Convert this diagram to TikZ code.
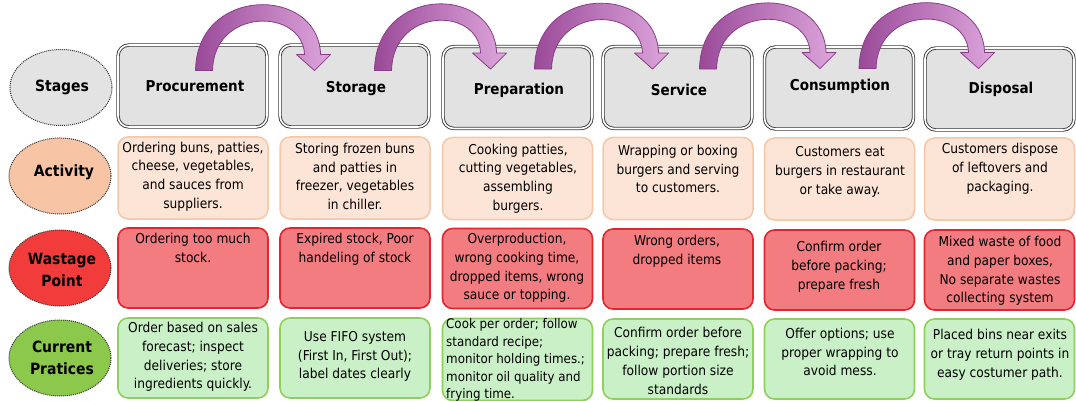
\documentclass[tikz,border=0pt]{standalone}
\usepackage{fontspec}
\setmainfont{DejaVu Sans Condensed}
\usetikzlibrary{shapes.geometric,calc}
\definecolor{stagefill}{HTML}{E2E2E2}
\definecolor{stageline}{HTML}{3A3A3A}
\definecolor{actfill}{HTML}{FCE4D6}
\definecolor{actline}{HTML}{F4C7A9}
\definecolor{wasfill}{HTML}{F27C80}
\definecolor{wasline}{HTML}{E0262E}
\definecolor{prafill}{HTML}{C9F0C6}
\definecolor{praline}{HTML}{8FCF5C}
\definecolor{ellgray}{HTML}{E3E3E3}
\definecolor{ellpeach}{HTML}{F8C4A6}
\definecolor{ellred}{HTML}{F23C3C}
\definecolor{ellgreen}{HTML}{8CC84B}
\definecolor{arrdark}{HTML}{9A4A98}
\definecolor{arrlight}{HTML}{DDA6DC}
\definecolor{arrline}{HTML}{8A3C88}
\tikzset{
  rowlabel/.style={ellipse, draw=black!80, densely dotted, line width=1pt,
    minimum width=102pt, minimum height=76pt, inner sep=0pt},
  lbltxt/.style={font=\fontsize{15.5}{22}\selectfont\bfseries, align=center, inner sep=0pt},
  stagebox/.style={rectangle, rounded corners=11pt, fill=stagefill, draw=stageline,
    line width=0.9pt, double=white, double distance=1.6pt,
    minimum width=149pt, minimum height=82pt, inner sep=0pt},
  stagetxt/.style={font=\fontsize{15}{18}\selectfont\bfseries, inner sep=0pt},
  actbox/.style={rectangle, rounded corners=10pt, fill=actfill, draw=actline,
    line width=1.5pt, minimum width=150pt, minimum height=82pt, inner sep=0pt},
  wasbox/.style={rectangle, rounded corners=10pt, fill=wasfill, draw=wasline,
    line width=1.6pt, minimum width=150pt, minimum height=80pt, inner sep=0pt},
  prabox/.style={rectangle, rounded corners=10pt, fill=prafill, draw=praline,
    line width=1.6pt, minimum width=150pt, minimum height=80pt, inner sep=0pt},
  celltxt/.style={font=\fontsize{13.6}{18.8}\selectfont, align=center, inner sep=0pt},
  smalltxt/.style={font=\fontsize{13.2}{17.6}\selectfont, align=left, inner sep=0pt},
  flowarrow/.style={left color=arrdark, right color=arrlight, draw=arrline, line width=0.8pt, line join=round}
}
\newcommand\flowarc[2]{%
  \path[flowarrow]
    ($(#1)+(-8,0)$) .. controls ($(#1)+(-7,-85)$) and ($(#2)+(4,-85)$) .. ($(#2)+(6,-16)$)
    -- ($(#2)+(16,-16)$) -- (#2) -- ($(#2)+(-18,-16)$) -- ($(#2)+(-10,-16)$)
    .. controls ($(#2)+(-12,-63)$) and ($(#1)+(10,-63)$) .. ($(#1)+(9,0)$) -- cycle;}
\begin{document}
\begin{tikzpicture}[x=1pt,y=-1pt]
\useasboundingbox (0,0) rectangle (1076,401);

% row labels
\node[rowlabel, fill=ellgray]  (lstage) at (61,87.5) {};
\node[rowlabel, fill=ellpeach] (lact)   at (60,176) {};
\node[rowlabel, fill=ellred]   (lwas)   at (60,268) {};
\node[rowlabel, fill=ellgreen] (lpra)   at (60,358) {};
\node[lbltxt] (lstaget) at (62,87) {Stages};
\node[lbltxt] (lactt)   at (64,172) {Activity};
\node[lbltxt] (lwast)   at (62,270) {Wastage\\Point};
\node[lbltxt] (lprat)   at (62,358) {Current\\Pratices};

% stage boxes
\node[stagebox] (s1) at (192.5,86) {};
\node[stagebox] (s2) at (354.5,86) {};
\node[stagebox] (s3) at (517.5,87.5) {};
\node[stagebox] (s4) at (677.5,87.5) {};
\node[stagebox] (s5) at (839,88) {};
\node[stagebox] (s6) at (999.5,89) {};
\node[stagetxt] (s1t) at (195,86) {Procurement};
\node[stagetxt] (s2t) at (356,89) {Storage};
\node[stagetxt] (s3t) at (519,90) {Preparation};
\node[stagetxt] (s4t) at (679,90) {Service};
\node[stagetxt] (s5t) at (840,86) {Consumption};
\node[stagetxt] (s6t) at (1001,89) {Disposal};

% activity boxes
\node[actbox] (a1) at (193,178) {};
\node[actbox] (a2) at (355,178) {};
\node[actbox] (a3) at (517.5,178.5) {};
\node[actbox] (a4) at (678,178.5) {};
\node[actbox] (a5) at (839.5,179) {};
\node[actbox] (a6) at (999.5,179) {};
\node[celltxt] (a1t) at (193,176.5) {Ordering buns, patties,\\cheese, vegetables,\\and sauces from\\suppliers.};
\node[celltxt] (a2t) at (355,176.5) {Storing frozen buns\\and patties in\\freezer, vegetables\\in chiller.};
\node[celltxt] (a3t) at (518,178.5) {Cooking patties,\\cutting vegetables,\\assembling\\burgers.};
\node[celltxt] (a4t) at (678,169) {Wrapping or boxing\\burgers and serving\\to customers.};
\node[celltxt] (a5t) at (840,172) {Customers eat\\burgers in restaurant\\or take away.};
\node[celltxt] (a6t) at (1000,169) {Customers dispose\\of leftovers and\\packaging.};

% wastage boxes
\node[wasbox] (w1) at (193,268) {};
\node[wasbox] (w2) at (355,268) {};
\node[wasbox] (w3) at (517.5,268.5) {};
\node[wasbox] (w4) at (678,269) {};
\node[wasbox] (w5) at (839.5,270) {};
\node[wasbox] (w6) at (999.5,270) {};
\node[celltxt] (w1t) at (193,248) {Ordering too much\\stock.};
\node[celltxt] (w2t) at (355,249) {Expired stock, Poor\\handeling of stock};
\node[celltxt] (w3t) at (517,268) {Overproduction,\\wrong cooking time,\\dropped items, wrong\\sauce or topping.};
\node[celltxt] (w4t) at (677,251) {Wrong orders,\\dropped items};
\node[celltxt] (w5t) at (839,266.5) {Confirm order\\before packing;\\prepare fresh};
\node[celltxt] (w6t) at (1000,271) {Mixed waste of food\\and paper boxes,\\No separate wastes\\collecting system};

% practice boxes
\node[prabox] (p1) at (193,358) {};
\node[prabox] (p2) at (355,358) {};
\node[prabox, minimum height=82pt] (p3) at (517.5,359.5) {};
\node[prabox] (p4) at (678,359) {};
\node[prabox] (p5) at (839.5,359) {};
\node[prabox] (p6) at (999.5,359) {};
\node[celltxt] (p1t) at (193,357) {Order based on sales\\forecast; inspect\\deliveries; store\\ingredients quickly.};
\node[celltxt] (p2t) at (355,356.5) {Use FIFO system\\(First In, First Out);\\label dates clearly};
\node[smalltxt, anchor=west] (p3t) at (446,360) {Cook per order; follow\\standard recipe;\\monitor holding times.;\\monitor oil quality and\\frying time.};
\node[celltxt] (p4t) at (678,361) {Confirm order before\\packing; prepare fresh;\\follow portion size\\standards};
\node[celltxt] (p5t) at (840,352) {Offer options; use\\proper wrapping to\\avoid mess.};
\node[celltxt] (p6t) at (1000,354.5) {Placed bins near exits\\or tray return points in\\easy costumer path.};

% flow arrows between stages
\coordinate (t1) at ($(s1.north west)+(86,26)$);
\coordinate (h2) at ($(s2.north west)+(35,26)$);
\coordinate (t2) at ($(s2.north west)+(103,26)$);
\coordinate (h3) at ($(s3.north west)+(48,23)$);
\coordinate (t3) at ($(s3.north west)+(100,23)$);
\coordinate (h4) at ($(s4.north west)+(50,23)$);
\coordinate (t4) at ($(s4.north west)+(105,23)$);
\coordinate (h5) at ($(s5.north west)+(56,22)$);
\coordinate (t5) at ($(s5.north west)+(103,22)$);
\coordinate (h6) at ($(s6.north west)+(54,21)$);
\flowarc{t1}{h2}
\flowarc{t2}{h3}
\flowarc{t3}{h4}
\flowarc{t4}{h5}
\flowarc{t5}{h6}
\end{tikzpicture}
\end{document}
